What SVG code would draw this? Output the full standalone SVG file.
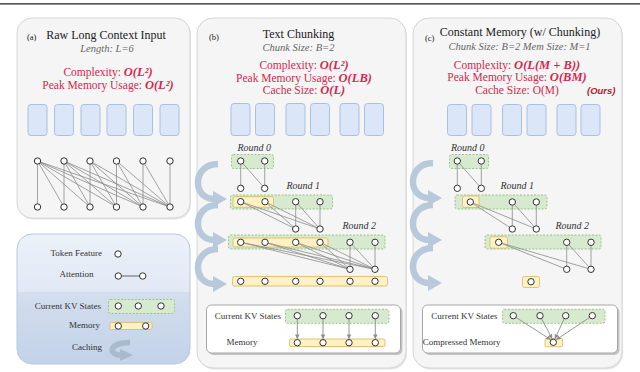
<svg xmlns="http://www.w3.org/2000/svg" width="640" height="372" viewBox="0 0 640 372">
<style>
.panel{fill:#f5f5f5;stroke:#d6d6d6;stroke-width:1}
.shadow{fill:#e4e4e4}
text{font-family:"Liberation Serif","Times New Roman",serif}
.t{font-family:"Liberation Serif","Times New Roman",serif;fill:#222}
.title{font-size:12px}
.lab{font-size:8.5px}
.sub{font-size:10.5px;font-style:italic;fill:#666}
.red{font-size:11.5px;fill:#d6284f}
.m{font-style:italic;font-weight:bold;font-size:12.5px}
.rnd{font-size:10px;font-style:italic;fill:#333}
.sm{font-size:9px;fill:#333}
.blk{fill:#dbe7f8;stroke:#a9c1e0;stroke-width:1}
.kv{fill:#d7eacf;stroke:#95c07f;stroke-width:0.9;stroke-dasharray:2 1.5}
.mem{fill:#fff1c6;stroke:#dcbd66;stroke-width:0.9}
.n{fill:#fff;stroke:#333;stroke-width:1}
.e{stroke:#8c8c8c;stroke-width:0.8;fill:none}
.ea{stroke:#8c8c8c;stroke-width:0.9;fill:none;marker-end:url(#ah)}
.cache{fill:none;stroke:#b7c9da;stroke-width:6.5}
.cacheh{fill:#b7c9da}
.wbox{fill:#fff;stroke:#a8a8a8;stroke-width:1}
</style>
<defs>
<marker id="ah" viewBox="0 0 6 6" refX="5.5" refY="3" markerWidth="5" markerHeight="5" orient="auto"><path d="M0,0 L6,3 L0,6 z" fill="#8c8c8c"/></marker>
<g id="cacheArrow"><path class="cache" d="M1,0 C-25,0 -25,35 -3,35"/><polygon class="cacheh" points="-4,27 10,35 -4,43"/></g>
<linearGradient id="lg" x1="0" y1="0" x2="0" y2="1">
<stop offset="0" stop-color="#ecf1f9"/><stop offset="0.44" stop-color="#e1e9f5"/><stop offset="0.45" stop-color="#d3deee"/><stop offset="1" stop-color="#c2d2e8"/>
</linearGradient>
<circle id="nd" r="3.2" class="n"/>
</defs>
<rect width="640" height="372" fill="#fff"/>
<line x1="0" y1="3.8" x2="640" y2="3.8" stroke="#222" stroke-width="1.3"/>

<g id="panel-a">
<rect class="shadow" x="18" y="19.5" width="173" height="200" rx="15"/>
<rect class="panel" x="17" y="18" width="173" height="200" rx="15"/>
<text class="t lab" x="27" y="40">(a)</text>
<text class="t title" x="106" y="39" text-anchor="middle">Raw Long Context Input</text>
<text class="t sub" x="107" y="52" text-anchor="middle">Length: L=6</text>
<text class="t red" x="108" y="76" text-anchor="middle">Complexity: <tspan class="m">O(L²)</tspan></text>
<text class="t red" x="108" y="89" text-anchor="middle">Peak Memory Usage: <tspan class="m">O(L²)</tspan></text>
<rect class="blk" x="28" y="104.5" width="19" height="31" rx="3"/>
<rect class="blk" x="54.5" y="104.5" width="19" height="31" rx="3"/>
<rect class="blk" x="81" y="104.5" width="19" height="31" rx="3"/>
<rect class="blk" x="107" y="104.5" width="19" height="31" rx="3"/>
<rect class="blk" x="133.5" y="104.5" width="19" height="31" rx="3"/>
<rect class="blk" x="160" y="104.5" width="19" height="31" rx="3"/>
</g>

<g id="panel-b">
<rect class="shadow" x="198" y="19.5" width="209" height="350" rx="16"/>
<rect class="panel" x="197" y="18" width="209" height="350" rx="16"/>
<text class="t lab" x="209" y="40">(b)</text>
<text class="t title" x="298.5" y="38" text-anchor="middle">Text Chunking</text>
<text class="t sub" x="298.5" y="51" text-anchor="middle">Chunk Size: B=2</text>
<text class="t red" x="304" y="69" text-anchor="middle">Complexity: <tspan class="m">O(L²)</tspan></text>
<text class="t red" x="304" y="81.5" text-anchor="middle">Peak Memory Usage: <tspan class="m">O(LB)</tspan></text>
<text class="t red" x="304" y="94" text-anchor="middle">Cache Size: <tspan class="m">O(L)</tspan></text>
<rect class="blk" x="231" y="103.5" width="19" height="32" rx="3"/>
<rect class="blk" x="255.5" y="103.5" width="19" height="32" rx="3"/>
<rect class="blk" x="286" y="103.5" width="19" height="32" rx="3"/>
<rect class="blk" x="310.5" y="103.5" width="19" height="32" rx="3"/>
<rect class="blk" x="340" y="103.5" width="19" height="32" rx="3"/>
<rect class="blk" x="364.5" y="103.5" width="19" height="32" rx="3"/>
</g>

<g id="panel-c">
<rect class="shadow" x="414" y="19.5" width="209" height="350" rx="16"/>
<rect class="panel" x="413" y="18" width="209" height="350" rx="16"/>
<text class="t lab" x="425" y="41">(c)</text>
<text class="t title" x="520" y="36" text-anchor="middle">Constant Memory (w/ Chunking)</text>
<text class="t sub" x="519.5" y="50" text-anchor="middle">Chunk Size: B=2 Mem Size: M=1</text>
<text class="t red" x="517" y="68.5" text-anchor="middle">Complexity: <tspan class="m">O(L(M + B))</tspan></text>
<text class="t red" x="517" y="81" text-anchor="middle">Peak Memory Usage: <tspan class="m">O(BM)</tspan></text>
<text class="t red" x="517" y="94" text-anchor="middle">Cache Size: O(M)</text>
<text x="587" y="94" style="font-family:'Liberation Sans',Arial,sans-serif" font-size="9.5" font-weight="bold" font-style="italic" fill="#c0142f">(Ours)</text>
<rect class="blk" x="447.5" y="104.5" width="19" height="31" rx="3"/>
<rect class="blk" x="472" y="104.5" width="19" height="31" rx="3"/>
<rect class="blk" x="502.5" y="104.5" width="19" height="31" rx="3"/>
<rect class="blk" x="527" y="104.5" width="19" height="31" rx="3"/>
<rect class="blk" x="557" y="104.5" width="19" height="31" rx="3"/>
<rect class="blk" x="581" y="104.5" width="19" height="31" rx="3"/>
</g>

<g id="legend">
<rect x="17" y="234" width="173" height="130" rx="15" fill="url(#lg)" stroke="#b9c9dd" stroke-width="1"/>
<text class="t sm" x="102" y="255.5" text-anchor="end">Token Feature</text>
<text class="t sm" x="93.5" y="277" text-anchor="end">Attention</text>
<text class="t sm" x="101" y="308.5" text-anchor="end">Current KV States</text>
<text class="t sm" x="100" y="328" text-anchor="end">Memory</text>
<text class="t sm" x="102" y="349.5" text-anchor="end">Caching</text>
<rect class="kv" x="108.5" y="299.5" width="66" height="14" rx="2"/>
<rect class="mem" x="110" y="322.5" width="42" height="7" rx="1.5"/>
<path d="M130,342.5 C108,342.5 108,355 121,355" fill="none" stroke="#a9bacb" stroke-width="5.5"/>
<polygon points="120,349 133,355 120,361" fill="#a9bacb"/>
</g>

<g id="rounds-b">
<rect class="kv" x="231.5" y="154.5" width="42" height="14" rx="2"/>
<rect class="kv" x="230.5" y="195" width="102" height="14" rx="2"/>
<rect class="mem" x="233" y="196.7" width="40.5" height="10.6" rx="2"/>
<rect class="kv" x="228.5" y="235" width="156.5" height="14" rx="2"/>
<rect class="mem" x="233" y="238" width="95" height="9" rx="2"/>
<rect class="mem" x="232.5" y="276.5" width="155" height="9.5" rx="2"/>
<text class="t rnd" x="237.5" y="150.5">Round 0</text>
<text class="t rnd" x="286.5" y="188.5">Round 1</text>
<text class="t rnd" x="342.5" y="229">Round 2</text>
<use href="#cacheArrow" x="217" y="164"/>
<use href="#cacheArrow" x="217" y="205"/>
<use href="#cacheArrow" x="217" y="249"/>
</g>

<g id="rounds-c">
<rect class="kv" x="449.5" y="154.5" width="39" height="14" rx="2"/>
<rect class="kv" x="455" y="195" width="92" height="14" rx="2"/>
<rect class="mem" x="462.5" y="196" width="16.5" height="11.5" rx="2"/>
<rect class="kv" x="485" y="235" width="116" height="14" rx="2"/>
<rect class="mem" x="490" y="236.7" width="17.5" height="11.5" rx="2"/>
<rect class="mem" x="522.5" y="276.5" width="17" height="11" rx="2"/>
<text class="t rnd" x="451" y="150.5">Round 0</text>
<text class="t rnd" x="500.5" y="188.5">Round 1</text>
<text class="t rnd" x="555.5" y="229">Round 2</text>
<use href="#cacheArrow" x="432" y="163"/>
<use href="#cacheArrow" x="432" y="205"/>
<use href="#cacheArrow" x="432" y="248"/>
</g>

<g id="kv-box-b">
<rect x="208.5" y="307" width="194" height="48" rx="5" fill="#c4c4c4"/>
<rect class="wbox" x="206.5" y="305" width="194" height="48" rx="5"/>
<text class="t sm" x="281" y="318.5" text-anchor="end">Current KV States</text>
<text class="t sm" x="257.5" y="344.5" text-anchor="end">Memory</text>
<rect class="kv" x="285.5" y="309.3" width="103.5" height="14" rx="2"/>
<rect class="mem" x="289.5" y="339" width="95.5" height="7.5" rx="1.5"/>
</g>

<g id="kv-box-c">
<rect x="424.5" y="307" width="195" height="48" rx="5" fill="#c4c4c4"/>
<rect class="wbox" x="422.5" y="305" width="195" height="48" rx="5"/>
<text class="t sm" x="497.5" y="318.5" text-anchor="end">Current KV States</text>
<text class="t sm" x="500.5" y="344.5" text-anchor="end">Compressed Memory</text>
<rect class="kv" x="502.5" y="309.3" width="102.5" height="14" rx="2"/>
<rect class="mem" x="545" y="338.3" width="17.5" height="8.5" rx="1.5"/>
</g>

<g id="connectors">
<g class="e">
<line x1="37.5" y1="161" x2="37.5" y2="207"/><line x1="37.5" y1="161" x2="64" y2="207"/><line x1="37.5" y1="161" x2="90" y2="207"/><line x1="37.5" y1="161" x2="116.5" y2="207"/><line x1="37.5" y1="161" x2="143" y2="207"/><line x1="37.5" y1="161" x2="170" y2="207"/>
<line x1="64" y1="161" x2="64" y2="207"/><line x1="64" y1="161" x2="90" y2="207"/><line x1="64" y1="161" x2="116.5" y2="207"/><line x1="64" y1="161" x2="143" y2="207"/><line x1="64" y1="161" x2="170" y2="207"/>
<line x1="90" y1="161" x2="90" y2="207"/><line x1="90" y1="161" x2="116.5" y2="207"/><line x1="90" y1="161" x2="143" y2="207"/><line x1="90" y1="161" x2="170" y2="207"/>
<line x1="116.5" y1="161" x2="116.5" y2="207"/><line x1="116.5" y1="161" x2="143" y2="207"/><line x1="116.5" y1="161" x2="170" y2="207"/>
<line x1="143" y1="161" x2="143" y2="207"/><line x1="143" y1="161" x2="170" y2="207"/>
<line x1="170" y1="161" x2="170" y2="207"/>
<line x1="118.3" y1="276" x2="142.7" y2="276" stroke="#444"/>
<line x1="240.7" y1="161" x2="240.7" y2="188.3"/><line x1="240.7" y1="161" x2="264.7" y2="188.3"/><line x1="264.7" y1="161" x2="264.7" y2="188.3"/>
<line x1="240.7" y1="201.7" x2="295.7" y2="229"/><line x1="265" y1="201.7" x2="295.7" y2="229"/><line x1="295.7" y1="201.7" x2="295.7" y2="229"/>
<line x1="240.7" y1="201.7" x2="320" y2="229"/><line x1="265" y1="201.7" x2="320" y2="229"/><line x1="295.7" y1="201.7" x2="320" y2="229"/><line x1="320" y1="201.7" x2="320" y2="229"/>
<line x1="240.7" y1="242.3" x2="350" y2="269.3"/><line x1="265" y1="242.3" x2="350" y2="269.3"/><line x1="295.7" y1="242.3" x2="350" y2="269.3"/><line x1="320" y1="242.3" x2="350" y2="269.3"/><line x1="350" y1="242.3" x2="350" y2="269.3"/>
<line x1="240.7" y1="242.3" x2="375" y2="269.3"/><line x1="265" y1="242.3" x2="375" y2="269.3"/><line x1="295.7" y1="242.3" x2="375" y2="269.3"/><line x1="320" y1="242.3" x2="375" y2="269.3"/><line x1="350" y1="242.3" x2="375" y2="269.3"/><line x1="375" y1="242.3" x2="375" y2="269.3"/>
<line x1="457.3" y1="161" x2="457.3" y2="188.3"/><line x1="457.3" y1="161" x2="481.3" y2="188.3"/><line x1="481.3" y1="161" x2="481.3" y2="188.3"/>
<line x1="470.3" y1="202" x2="512.3" y2="229"/><line x1="470.3" y1="202" x2="536.3" y2="229"/><line x1="512.3" y1="202" x2="512.3" y2="229"/><line x1="512.3" y1="202" x2="536.3" y2="229"/><line x1="536.3" y1="202" x2="536.3" y2="229"/>
<line x1="498.7" y1="242.3" x2="566.7" y2="269.3"/><line x1="498.7" y1="242.3" x2="591" y2="269.3"/><line x1="566.7" y1="242.3" x2="566.7" y2="269.3"/><line x1="566.7" y1="242.3" x2="591" y2="269.3"/><line x1="591" y1="242.3" x2="591" y2="269.3"/>
</g>
<g>
<line class="ea" x1="297.3" y1="319" x2="297.3" y2="338.5"/>
<line class="ea" x1="323" y1="319" x2="323" y2="338.5"/>
<line class="ea" x1="349" y1="319" x2="349" y2="338.5"/>
<line class="ea" x1="375.3" y1="319" x2="375.3" y2="338.5"/>
<line class="ea" x1="513.3" y1="315.7" x2="550.5" y2="339.5"/>
<line class="ea" x1="540" y1="315.7" x2="552" y2="338.5"/>
<line class="ea" x1="565.7" y1="315.7" x2="555" y2="338.5"/>
<line class="ea" x1="592.3" y1="315.7" x2="556.5" y2="339.5"/>
</g>
</g>

<g id="nodes">
<g id="nodes-a">
<use href="#nd" x="37.5" y="161"/><use href="#nd" x="64" y="161"/><use href="#nd" x="90" y="161"/><use href="#nd" x="116.5" y="161"/><use href="#nd" x="143" y="161"/><use href="#nd" x="170" y="161"/>
<use href="#nd" x="37.5" y="207"/><use href="#nd" x="64" y="207"/><use href="#nd" x="90" y="207"/><use href="#nd" x="116.5" y="207"/><use href="#nd" x="143" y="207"/><use href="#nd" x="170" y="207"/>
</g>
<g id="nodes-legend">
<use href="#nd" x="118" y="254"/>
<use href="#nd" x="118.3" y="276"/><use href="#nd" x="142.7" y="276"/>
<use href="#nd" x="118.3" y="306"/><use href="#nd" x="138.3" y="306"/><use href="#nd" x="161" y="306"/>
<use href="#nd" x="118.3" y="326"/><use href="#nd" x="145.7" y="326"/>
</g>
<g id="nodes-b">
<use href="#nd" x="240.7" y="161"/><use href="#nd" x="264.7" y="161"/>
<use href="#nd" x="240.7" y="188.3"/><use href="#nd" x="264.7" y="188.3"/>
<use href="#nd" x="240.7" y="201.7"/><use href="#nd" x="265" y="201.7"/><use href="#nd" x="295.7" y="201.7"/><use href="#nd" x="320" y="201.7"/>
<use href="#nd" x="295.7" y="229"/><use href="#nd" x="320" y="229"/>
<use href="#nd" x="240.7" y="242.3"/><use href="#nd" x="265" y="242.3"/><use href="#nd" x="295.7" y="242.3"/><use href="#nd" x="320" y="242.3"/><use href="#nd" x="350" y="242.3"/><use href="#nd" x="375" y="242.3"/>
<use href="#nd" x="350" y="269.3"/><use href="#nd" x="375" y="269.3"/>
<use href="#nd" x="240.7" y="281.3"/><use href="#nd" x="265" y="281.3"/><use href="#nd" x="295.7" y="281.3"/><use href="#nd" x="320" y="281.3"/><use href="#nd" x="350" y="281.3"/><use href="#nd" x="375" y="281.3"/>
<use href="#nd" x="297.3" y="315.7"/><use href="#nd" x="323" y="315.7"/><use href="#nd" x="349" y="315.7"/><use href="#nd" x="375.3" y="315.7"/>
<use href="#nd" x="297.3" y="342.7"/><use href="#nd" x="323" y="342.7"/><use href="#nd" x="349" y="342.7"/><use href="#nd" x="375.3" y="342.7"/>
</g>
<g id="nodes-c">
<use href="#nd" x="457.3" y="161"/><use href="#nd" x="481.3" y="161"/>
<use href="#nd" x="457.3" y="188.3"/><use href="#nd" x="481.3" y="188.3"/>
<use href="#nd" x="470.3" y="202"/><use href="#nd" x="512.3" y="202"/><use href="#nd" x="536.3" y="202"/>
<use href="#nd" x="512.3" y="229"/><use href="#nd" x="536.3" y="229"/>
<use href="#nd" x="498.7" y="242.3"/><use href="#nd" x="566.7" y="242.3"/><use href="#nd" x="591" y="242.3"/>
<use href="#nd" x="566.7" y="269.3"/><use href="#nd" x="591" y="269.3"/>
<use href="#nd" x="531" y="281.7"/>
<use href="#nd" x="513.3" y="315.7"/><use href="#nd" x="540" y="315.7"/><use href="#nd" x="565.7" y="315.7"/><use href="#nd" x="592.3" y="315.7"/>
<use href="#nd" x="553.3" y="342.3"/>
</g>
</g>
</svg>
